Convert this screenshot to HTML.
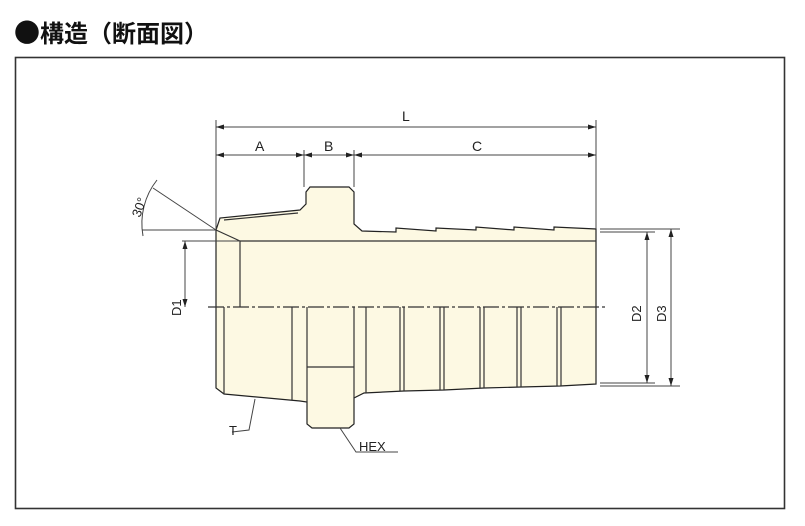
<!DOCTYPE html>
<html><head><meta charset="utf-8"><style>
html,body{margin:0;padding:0;background:#fff;width:805px;height:526px;overflow:hidden}
.t{position:absolute;left:14px;top:13px;font:bold 24px "Liberation Sans","Noto Sans CJK JP",sans-serif;color:#111;white-space:nowrap}
.b{font-size:26px;font-family:"Noto Sans CJK JP",sans-serif}
</style></head><body>
<div class="t"><span class="b">●</span>構造（断面図）</div>
<svg width="805" height="526" style="position:absolute;left:0;top:0" font-family="Liberation Sans, sans-serif" font-size="13" fill="none" stroke="#222" stroke-width="1.2">
<rect x="15.5" y="57.5" width="769" height="451" stroke="#333" stroke-width="1.6"/>
<path d="M216,230 L220,218 L300,210 L306,204 L306,192 L310,187 L349,187 L354,192 L354,224 L362,231 L396,232 L396,228 L436,231 L436,228 L476,230 L476,227 L514,230 L514,227 L554,230 L554,227 L596,229 L596,384 L560,386 L521,387 L484,388 L444,390 L404,391 L364,393 L354,398 L354,424 L349,428 L312,428 L307,424 L307,402 L300,401 L224,394 L216,388 Z" fill="#fdf9e3" stroke="#222"/>
<g stroke="#333">
<line x1="216" y1="230" x2="240" y2="241"/>
<line x1="240" y1="241" x2="596" y2="241"/>
<line x1="240" y1="241" x2="240" y2="307"/>
<line x1="224" y1="307" x2="224" y2="394"/>
<line x1="292" y1="307" x2="292" y2="400"/>
<line x1="307" y1="307" x2="307" y2="402"/>
<line x1="354" y1="307" x2="354" y2="398"/>
<line x1="366" y1="307" x2="366" y2="393"/>
<line x1="307" y1="367" x2="354" y2="367"/>
<line x1="400" y1="307" x2="400" y2="391"/><line x1="404" y1="307" x2="404" y2="391"/>
<line x1="440" y1="307" x2="440" y2="390"/><line x1="444" y1="307" x2="444" y2="390"/>
<line x1="480" y1="307" x2="480" y2="388"/><line x1="484" y1="307" x2="484" y2="388"/>
<line x1="517" y1="307" x2="517" y2="387"/><line x1="521" y1="307" x2="521" y2="387"/>
<line x1="557" y1="307" x2="557" y2="386"/><line x1="561" y1="307" x2="561" y2="386"/>
<line x1="224" y1="220" x2="298" y2="213"/>
</g>
<line x1="208" y1="307" x2="608" y2="307" stroke="#333" stroke-dasharray="16,3,3,3"/>
<g stroke="#444" stroke-width="1">
<line x1="216" y1="120" x2="216" y2="230"/>
<line x1="596" y1="120" x2="596" y2="229"/>
<line x1="304" y1="150" x2="304" y2="187"/>
<line x1="354" y1="150" x2="354" y2="187"/>
<line x1="216" y1="127" x2="596" y2="127"/>
<line x1="216" y1="155" x2="596" y2="155"/>
<line x1="182" y1="241" x2="240" y2="241"/>
<line x1="185" y1="241" x2="185" y2="307"/>
<line x1="600" y1="229" x2="680" y2="229"/>
<line x1="600" y1="232" x2="655" y2="232"/>
<line x1="600" y1="383" x2="655" y2="383"/>
<line x1="600" y1="386" x2="680" y2="386"/>
<line x1="647" y1="232" x2="647" y2="383"/>
<line x1="671" y1="229" x2="671" y2="386"/>
<line x1="142" y1="230" x2="216" y2="230"/>
<line x1="153" y1="188" x2="216" y2="230"/>
<path d="M157,180 A70,70 0 0 0 143,236"/>
<polyline points="255,399 249,430 232,432"/>
<polyline points="340,428 356,452 398,452"/>
</g>
<g fill="#222" stroke="none">
<path d="M216,127 l8,-2.5 v5z"/><path d="M596,127 l-8,-2.5 v5z"/>
<path d="M216,155 l8,-2.5 v5z"/><path d="M304,155 l-8,-2.5 v5z"/><path d="M304,155 l8,-2.5 v5z"/>
<path d="M354,155 l-8,-2.5 v5z"/><path d="M354,155 l8,-2.5 v5z"/><path d="M596,155 l-8,-2.5 v5z"/>
<path d="M185,241 l-2.5,8 h5z"/><path d="M185,307 l-2.5,-8 h5z"/>
<path d="M647,232 l-2.5,8 h5z"/><path d="M647,383 l-2.5,-8 h5z"/>
<path d="M671,229 l-2.5,8 h5z"/><path d="M671,386 l-2.5,-8 h5z"/>
<text x="402" y="121" font-size="14">L</text>
<text x="255" y="151" font-size="14">A</text>
<text x="324" y="151" font-size="14">B</text>
<text x="472" y="151" font-size="14">C</text>
<text x="229" y="435" font-size="13">T</text>
<text x="359" y="451" font-size="13">HEX</text>
<text transform="translate(181,316) rotate(-90)" font-size="13">D1</text>
<text transform="translate(641,322) rotate(-90)" font-size="13">D2</text>
<text transform="translate(666,322) rotate(-90)" font-size="13">D3</text>
<text transform="translate(140,218) rotate(-70)" font-size="13">30°</text>
</g>
</svg>
</body></html>
